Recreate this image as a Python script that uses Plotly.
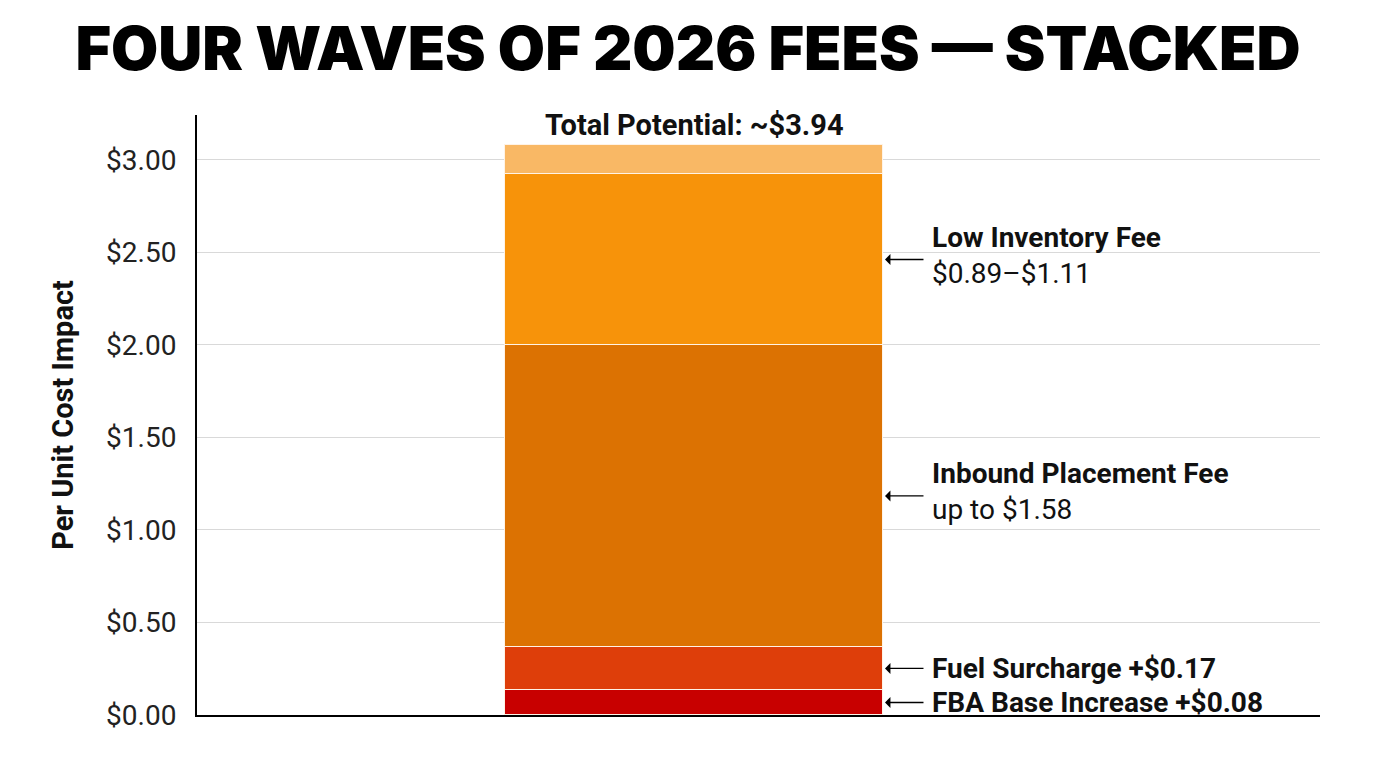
import plotly.graph_objects as go

category = ["2026"]
segment_names = ["FBA Base Increase", "Fuel Surcharge", "Inbound Placement Fee", "Low Inventory Fee", "Upper Range"]
segment_values = [0.135, 0.233, 1.632, 0.924, 0.157]
segment_colors = ["#C80000", "#DE3E0A", "#DC7202", "#F7930A", "#F9B865"]
label_lines = [
    ("FBA Base Increase +$0.08", None),
    ("Fuel Surcharge +$0.17", None),
    ("Inbound Placement Fee", "up to $1.58"),
    ("Low Inventory Fee", "$0.89–$1.11"),
]
total_label = "Total Potential: ~$3.94"
tick_vals = [0, 0.5, 1.0, 1.5, 2.0, 2.5, 3.0]
tick_text = ["$0.00", "$0.50", "$1.00", "$1.50", "$2.00", "$2.50", "$3.00"]

fig = go.Figure()
for name, v, c in zip(segment_names, segment_values, segment_colors):
    fig.add_trace(go.Bar(
        x=category, y=[v], name=name, width=0.8,
        marker=dict(color=c, line=dict(color="#FFF3E6", width=1.5)),
        hoverinfo="skip",
    ))

annotations = []
cum = 0
for i, (bold, sub) in enumerate(label_lines):
    mid = cum + segment_values[i] / 2
    cum += segment_values[i]
    annotations.append(dict(
        x=0.4, y=mid, xref="x", yref="y", text="", showarrow=True,
        ax=42, ay=0, arrowhead=1, arrowsize=1.4, arrowwidth=1.3, arrowcolor="#000",
        standoff=2,
    ))
    txt = f"<b>{bold}</b>" + (f"<br>{sub}" if sub else "")
    annotations.append(dict(
        x=0.6527, xref="paper", y=mid, yref="y", text=txt, showarrow=False,
        xanchor="left", yanchor="middle", align="left",
        yshift=(4 if sub else 0),
        font=dict(family="Roboto", size=28, color="#111"),
    ))

annotations.append(dict(
    x=0, y=sum(segment_values), xref="x", yref="y", text=f"<b>{total_label}</b>",
    showarrow=False, yanchor="bottom", yshift=1,
    font=dict(family="Roboto", size=29, color="#111"),
))

fig.update_layout(
    barmode="stack",
    width=1376, height=768,
    paper_bgcolor="white", plot_bgcolor="white",
    margin=dict(l=197, r=56, t=115, b=53),
    showlegend=False,
    bargap=0,
    title=dict(
        text="FOUR WAVES OF 2026 FEES — STACKED",
        x=0.5, xanchor="center", y=0.937, yanchor="middle", yref="container",
        font=dict(family="Inter", size=61, color="#000", weight=900),
    ),
    xaxis=dict(
        range=[-1.052, 1.325], showticklabels=False, showgrid=False,
        zeroline=False, showline=True, linecolor="#000", linewidth=2,
        fixedrange=True,
    ),
    yaxis=dict(
        range=[0, 3.243], tickvals=tick_vals, ticktext=tick_text,
        showgrid=True, gridcolor="#D9D9D9", gridwidth=1,
        zeroline=False, showline=True, linecolor="#000", linewidth=2,
        ticks="", ticklabelstandoff=13,
        tickfont=dict(family="Roboto", size=28, color="#222"),
        title=dict(text="<b>Per Unit Cost Impact</b>", standoff=24,
                   font=dict(family="Roboto", size=29, color="#111")),
    ),
    annotations=annotations,
)

fig.write_html("out.html")
